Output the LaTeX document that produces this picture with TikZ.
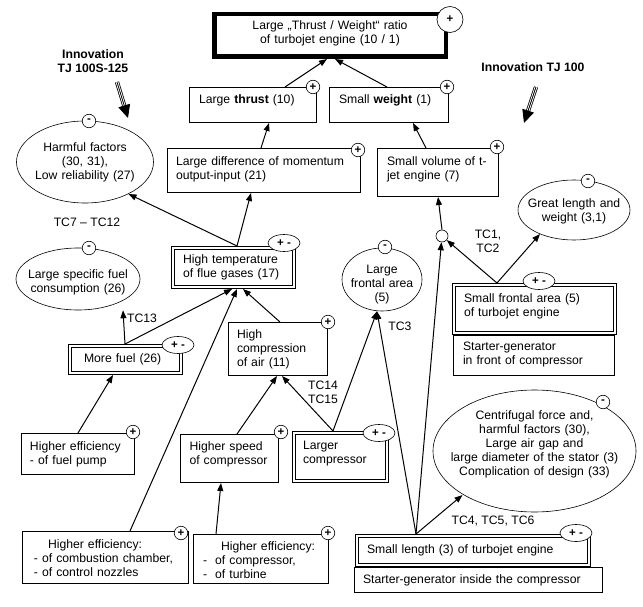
\documentclass[tikz,border=0pt]{standalone}
\usepackage{fontspec}
\setmainfont{Liberation Sans}
\usetikzlibrary{shapes.geometric,arrows.meta,calc}
\begin{document}
\begin{tikzpicture}[x=1pt,y=-1pt,
  every node/.style={font=\fontsize{12.2}{14}\selectfont, inner sep=0pt},
  box/.style={draw, line width=0.8pt, fill=white, rectangle, anchor=north west, align=left, outer sep=0.4pt},
  dbox/.style={box, double, double distance=2.2pt, line width=0.7pt, outer sep=1.8pt},
  tbox/.style={box, line width=4.5pt, outer sep=2.25pt},
  oval/.style={draw, ellipse, fill=white, line width=0.6pt, align=center, inner ysep=0pt},
  sign/.style={draw, circle, fill=white, line width=0.6pt, minimum size=13.5pt, font=\fontsize{11.5}{11.5}\selectfont\bfseries},
  pm/.style={draw, ellipse, fill=white, line width=0.6pt, minimum width=32pt, minimum height=17pt, font=\fontsize{11.5}{11.5}\selectfont\bfseries},
  lab/.style={align=center},
  blab/.style={align=center, font=\fontsize{12.2}{14}\selectfont\bfseries},
  arr/.style={line width=1pt, -{Triangle[length=8pt,width=6pt]}},
  tri/.style={line width=0.8pt, double, double distance=2.6pt, shorten >=10pt},
  trihead/.style={line width=0.8pt, -{Triangle[length=13pt,width=12pt]}}
]
\useasboundingbox (0,0) rectangle (643,607);

% boxes
\node[tbox, minimum width=231.5pt, minimum height=42.5pt, text width=220pt, align=center, text height=9pt, text depth=21pt] (T) at (212,12) {Large „Thrust / Weight“ ratio\\of turbojet engine (10 / 1)};
\node[box, minimum width=127.2pt, minimum height=35.2pt, inner xsep=9.6pt, text width=108pt, text depth=12pt] (LT) at (189,87) {Large \textbf{thrust} (10)};
\node[box, minimum width=119.2pt, minimum height=35.2pt, inner xsep=9.6pt, text width=100pt, text depth=12pt] (SW) at (329,87) {Small \textbf{weight} (1)};
\node[box, minimum width=193.2pt, minimum height=44.2pt, inner xsep=8.6pt, text width=176pt, text height=9pt, text depth=19pt] (LD) at (167,148) {Large difference of momentum\\output-input (21)};
\node[box, minimum width=121.2pt, minimum height=48.2pt, inner xsep=9.6pt, text width=102pt, text height=9pt, text depth=23pt] (SV) at (377,148) {Small volume of t-\\jet engine (7)};
\node[dbox, minimum width=121.4pt, minimum height=39.4pt, inner xsep=10.2pt, text width=101pt] (HT) at (171,246) {High temperature\\of flue gases (17)};
\node[dbox, minimum width=111.4pt, minimum height=27.4pt, inner xsep=14.2pt, text width=83pt] (MF) at (68,344) {More fuel (26)};
\node[box, minimum width=99.2pt, minimum height=53.2pt, inner xsep=8.6pt, text width=82pt] (HC) at (228,322) {High\\compression\\of air (11)};
\node[box, minimum width=98.2pt, minimum height=48.2pt, inner xsep=9.1pt, text width=80pt, text height=9pt, text depth=25pt] (HS) at (180,434) {Higher speed\\of compressor};
\node[dbox, minimum width=93.4pt, minimum height=48.4pt, inner xsep=9.2pt, text width=75pt, text height=9pt, text depth=24pt] (LC) at (292,431) {Larger\\compressor};
\node[dbox, minimum width=161.4pt, minimum height=48.4pt, inner xsep=10.2pt, text width=141pt, text height=9pt, text depth=22pt] (SF) at (452,283) {Small frontal area (5)\\of turbojet engine};
\node[box, minimum width=161.2pt, minimum height=40.2pt, inner xsep=9.6pt, text width=142pt, text height=9pt, text depth=19pt] (SGF) at (453,335) {Starter-generator\\in front of compressor};
\node[box, minimum width=113.2pt, minimum height=41.2pt, inner xsep=8.6pt, text width=96pt] (FP) at (21,433) {Higher efficiency\\- of fuel pump};
\node[box, minimum width=166.2pt, minimum height=52.2pt, inner xsep=11.6pt, text width=143pt, text height=9pt, text depth=27pt] (CC) at (22,531) {\hspace*{14pt}Higher efficiency:\\- of combustion chamber,\\- of control nozzles};
\node[box, minimum width=135.2pt, minimum height=49.2pt, inner xsep=9.6pt, text width=116pt, text height=9pt, text depth=26pt] (CE) at (193,534) {\hspace*{18pt}Higher efficiency:\\-\ \ of compressor,\\-\ \ of turbine};
\node[dbox, minimum width=232.4pt, minimum height=29.4pt, inner xsep=10.2pt, text width=212pt] (SL) at (355,534) {Small length (3) of turbojet engine};
\node[box, minimum width=248.2pt, minimum height=25.2pt, inner xsep=8.6pt, text width=231pt] (SGI) at (354,567) {Starter-generator inside the compressor};

% ellipses
\node[oval, minimum width=137pt, minimum height=82pt, text width=110pt, inner xsep=-10pt] (HF) at (85,162) {Harmful factors\\(30, 31),\\Low reliability (27)};
\node[oval, minimum width=124pt, minimum height=62pt, text width=130pt, inner xsep=-24pt, text height=9pt, text depth=10pt] (LSF) at (78,279) {Large specific fuel\\consumption (26)};
\node[oval, minimum width=80pt, minimum height=63pt, text width=80pt, inner xsep=-15pt, text height=9pt, text depth=22pt] (LFA) at (382,279.5) {Large\\frontal area\\(5)};
\node[oval, minimum width=112pt, minimum height=60pt, text width=110pt, inner xsep=-18pt, text height=9pt, text depth=14pt] (GLW) at (574,210) {Great length and\\weight (3,1)};
\node[oval, minimum width=203pt, minimum height=122pt, text width=190pt, inner xsep=-26pt, text height=9pt, text depth=72pt] (CF) at (534.5,451) {Centrifugal force and,\\harmful factors (30),\\Large air gap and\\large diameter of the stator (3)\\Complication of design (33)};

% junction
\node[draw, circle, fill=white, line width=0.6pt, minimum size=12pt] (J) at (442,236) {};

% labels
\node[blab] (inn1) at (93,61) {Innovation\\TJ 100S-125};
\node[blab] (inn2) at (533,67) {Innovation TJ 100};
\node (tc712) at (87,222) {TC7 – TC12};
\node (tc13) at (142,318) {TC13};
\node[lab] (tc1415) at (323,392) {TC14\\TC15};
\node (tc3) at (400,326) {TC3};
\node[lab] (tc12) at (488,241.5) {TC1,\\TC2};
\node (tc456) at (493,521) {TC4, TC5, TC6};

% innovation arrows
\coordinate (i1a) at (117,82);
\coordinate (i1b) at (128,118);
\coordinate (i2a) at (536,87);
\coordinate (i2b) at (524,123);
\draw[tri] (i1a) -- (i1b);
\draw[trihead] (i1a) -- (i1b);
\draw[tri] (i2a) -- (i2b);
\draw[trihead] (i2a) -- (i2b);

% connectors
\draw[arr] (LT.north -| 285,0) -- (T.south -| 327,0);
\draw[arr] (SW.north -| 387,0) -- (T.south -| 335,0);
\draw[arr] (LD.north -| 261,0) -- (LT.south -| 269,0);
\draw[arr] (SV.north -| 426,0) -- (SW.south -| 413,0);
\draw[arr] (J.north) -- (SV.south -| 438,0);
\draw[arr] (SF.north -| 497,0) -- (J);
\draw[arr] (SF.north -| 497,0) -- ($(GLW.center)+(-34,24)$);
\draw[arr] (SL.north -| 416,0) -- (J);
\draw[arr] (SL.north -| 416,0) -- (LFA.south -| 377,0);
\draw[arr] (SL.north -| 416,0) -- ($(CF.center)+(-72,44)$);
\draw[arr] (LC.north -| 333,0) -- (LFA.south -| 377,0);
\draw[arr] (LC.north -| 333,0) -- (HC.south -| 282,0);
\draw[arr] (HS.north -| 237,0) -- (HC.south -| 277,0);
\draw[arr] (CE.north -| 216,0) -- (HS.south -| 221,0);
\draw[arr] (HC.north -| 280,0) -- (HT.south -| 243,0);
\draw[arr] (CC.north -| 130,0) -- (HT.south -| 237,0);
\draw[arr] (MF.north -| 125,0) -- (HT.south -| 232,0);
\draw[arr] (MF.north -| 125,0) -- (LSF.south -| 123,0);
\draw[arr] (FP.north -| 78,0) -- (MF.south -| 113,0);
\draw[arr] (HT.north -| 237,0) -- ($(HF.center)+(43.5,32)$);
\draw[arr] (HT.north -| 237,0) -- (LD.south -| 251,0);

% signs
\node[sign, minimum size=26pt] (pT) at (450,19.5) {+};
\node[sign] (pLT) at (313,87) {+};
\node[sign] (pSW) at (447,87) {+};
\node[sign] (pLD) at (358,150) {+};
\node[sign] (pSV) at (497,147) {+};
\node[sign] (mHF) at (89,121) {-};
\node[sign] (mLSF) at (89,248) {-};
\node[sign] (mLFA) at (385,247) {-};
\node[sign] (mGLW) at (588,181) {-};
\node[sign] (mCF) at (603,402) {-};
\node[sign] (pHC) at (328,322) {+};
\node[sign] (pHS) at (281,432) {+};
\node[sign] (pFP) at (133,432) {+};
\node[sign] (pCC) at (181,533) {+};
\node[sign] (pCE) at (328,533) {+};
\node[pm] (pmHT) at (284,243) {+ -};
\node[pm] (pmMF) at (178,345) {+ -};
\node[pm] (pmLC) at (379,433) {+ -};
\node[pm] (pmSF) at (539,281) {+ -};
\node[pm] (pmSL) at (576,533) {+ -};
\end{tikzpicture}
\end{document}
